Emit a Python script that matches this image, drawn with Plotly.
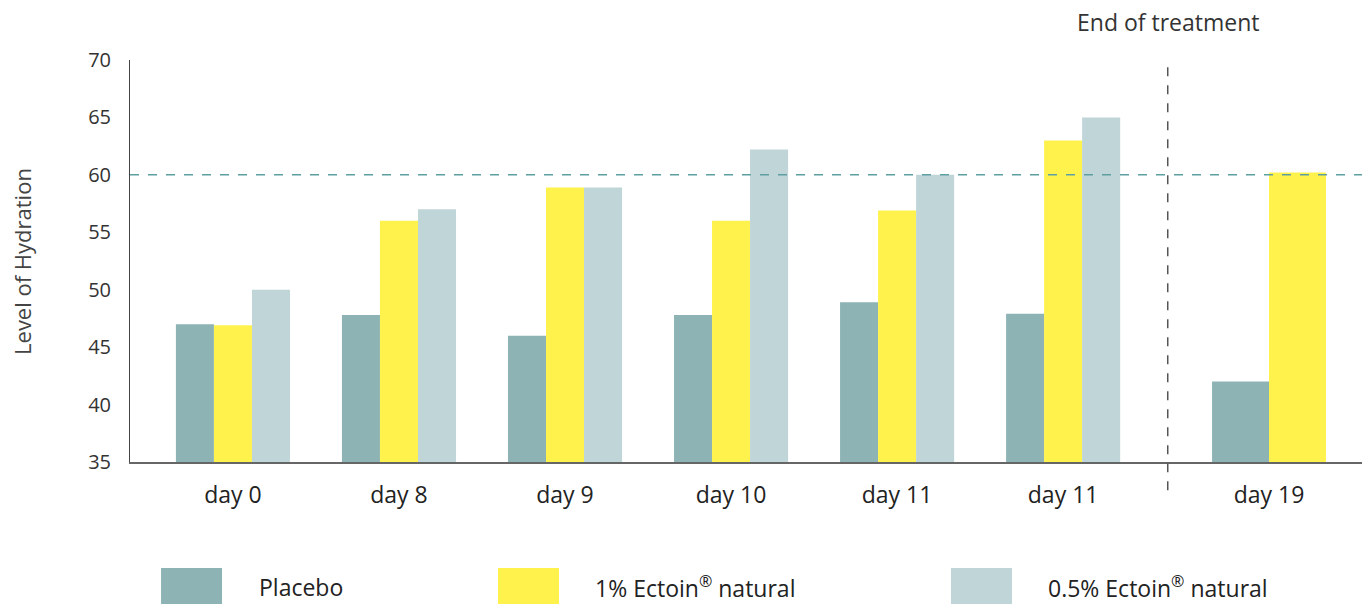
import plotly.graph_objects as go

# ---- data ----
categories = ["day 0", "day 8", "day 9", "day 10", "day 11", "day 11", "day 19"]
group_positions = [0, 1, 2, 3, 4, 5, 6.24]
placebo = [47.0, 47.8, 46.0, 47.8, 48.9, 47.9, 42.0]
ectoin_1 = [46.9, 56.0, 58.9, 56.0, 56.9, 63.0, 60.2]
ectoin_05 = [50.0, 57.0, 58.9, 62.2, 60.0, 65.0, None]
series_names = ["Placebo", "1% Ectoin<sup>®</sup> natural", "0.5% Ectoin<sup>®</sup> natural"]
y_ticks = [35, 40, 45, 50, 55, 60, 65, 70]
reference_level = 60
end_of_treatment_pos = 5.63

colors = ["#8DB3B5", "#FFF24C", "#BFD5D8"]
FONT = "'Open Sans', Lato, sans-serif"

w3 = 0.229   # bar width in 3-bar groups
w2 = 0.343   # bar width in the 2-bar group

series = [placebo, ectoin_1, ectoin_05]
fig = go.Figure()
for i, (name, vals) in enumerate(zip(series_names, series)):
    widths, offsets = [], []
    for g, v in enumerate(vals):
        n = sum(1 for s in series if s[g] is not None)
        w = w3 if n == 3 else w2
        widths.append(w)
        offsets.append(-n * w / 2 + i * w)
    fig.add_trace(go.Bar(
        x=group_positions, y=vals, name=name,
        width=widths, offset=offsets,
        marker=dict(color=colors[i], line=dict(width=0)),
        showlegend=False,
    ))

fig.update_layout(
    barmode="overlay",
    width=1364, height=604,
    margin=dict(l=130, r=2, t=60, b=142),
    paper_bgcolor="white", plot_bgcolor="white",
    font=dict(family=FONT, color="#333"),
)

fig.update_xaxes(
    range=[-0.62, 6.80],
    tickmode="array", tickvals=group_positions, ticktext=categories,
    tickfont=dict(size=23, color="#222"),
    ticks="outside", ticklen=11, tickcolor="rgba(0,0,0,0)",
    showgrid=False, zeroline=False,
    showline=True, linecolor="#666", linewidth=2,
)
fig.update_yaxes(
    range=[35, 70],
    tickmode="array", tickvals=y_ticks,
    tickfont=dict(size=20, color="#333"),
    ticks="outside", ticklen=14, tickcolor="rgba(0,0,0,0)",
    showgrid=False, zeroline=False,
    showline=True, linecolor="#444", linewidth=1,
)

# reference dashed line at 60
fig.add_shape(type="line", xref="paper", x0=0, x1=1, yref="y",
              y0=reference_level, y1=reference_level,
              line=dict(color="#5E9FA2", width=1.5, dash="dash"))
# end-of-treatment divider
fig.add_shape(type="line", xref="x", x0=end_of_treatment_pos, x1=end_of_treatment_pos,
              yref="paper", y0=-0.07, y1=1.0,
              line=dict(color="#555", width=1.5, dash="dash"))
fig.add_annotation(x=end_of_treatment_pos, xref="x", y=1.094, yref="paper",
                   text="End of treatment", showarrow=False,
                   font=dict(size=23, color="#333", family=FONT),
                   xanchor="center", yanchor="middle")

# y-axis title
fig.add_annotation(x=-0.0877, xref="paper", y=0.5, yref="paper",
                   text="Level of Hydration", textangle=-90, showarrow=False,
                   font=dict(size=22, color="#444", family=FONT),
                   xanchor="center", yanchor="middle")

# custom legend
legend_x = [(0.0252, 0.0747, 0.1031), (0.2987, 0.3482, 0.3758), (0.6664, 0.7159, 0.7435)]
for (x0, x1, tx), name, c in zip(legend_x, series_names, colors):
    fig.add_shape(type="rect", xref="paper", yref="paper",
                  x0=x0, x1=x1, y0=-0.3532, y1=-0.2637,
                  fillcolor=c, line=dict(width=0))
    fig.add_annotation(x=tx, xref="paper", y=-0.311, yref="paper",
                       text=name, showarrow=False,
                       font=dict(size=23, color="#222", family=FONT),
                       xanchor="left", yanchor="middle")

fig.write_html("out.html", config={"displayModeBar": False},
               post_script="document.body.style.margin='0';document.body.style.overflow='hidden';")
